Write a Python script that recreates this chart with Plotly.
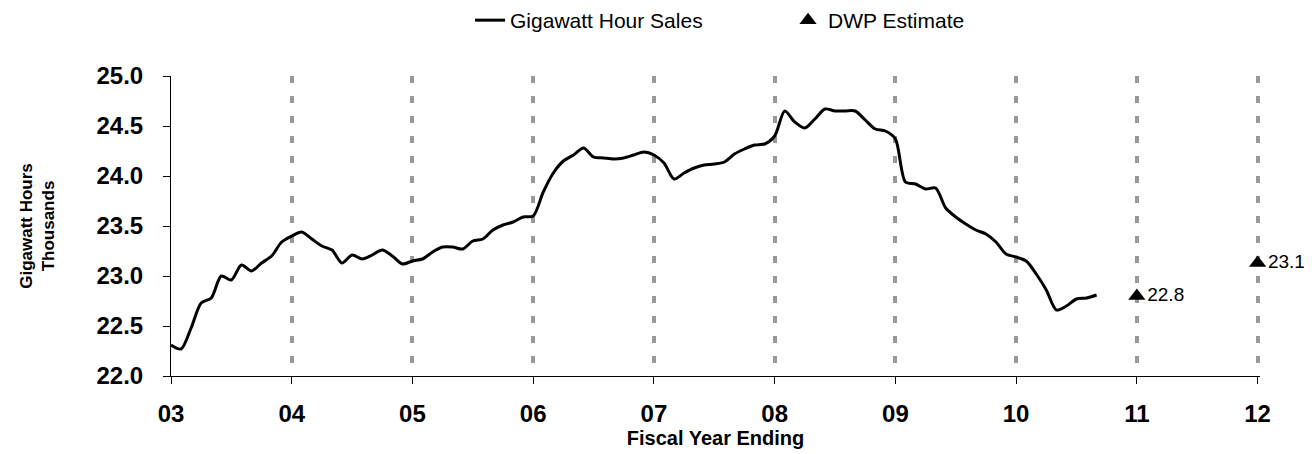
import plotly.graph_objects as go

# Ventas mensuales (miles de GWh), de FY03 a FY10 + 8 meses
ventas = [
    22.31, 22.27, 22.48, 22.73, 22.78, 23.00, 22.96, 23.11, 23.05, 23.13, 23.20, 23.34,
    23.40, 23.44, 23.37, 23.30, 23.26, 23.13, 23.21, 23.17, 23.21, 23.26, 23.20, 23.12,
    23.15, 23.17, 23.24, 23.29, 23.29, 23.27, 23.35, 23.37, 23.46, 23.51, 23.54, 23.59,
    23.60, 23.84, 24.03, 24.15, 24.21, 24.28, 24.19, 24.18, 24.17, 24.18, 24.21, 24.24,
    24.21, 24.13, 23.97, 24.03, 24.08, 24.11, 24.12, 24.14, 24.22, 24.27, 24.31, 24.32,
    24.40, 24.65, 24.54, 24.48, 24.57, 24.67, 24.65, 24.65, 24.65, 24.56, 24.47, 24.45,
    24.37, 23.94, 23.92, 23.87, 23.88, 23.68, 23.59, 23.52, 23.46, 23.42, 23.34, 23.22,
    23.19, 23.15, 23.02, 22.86, 22.66, 22.70, 22.77, 22.78, 22.81,
]
meses = [3 + k / 12 for k in range(len(ventas))]

anios_estimado = [11, 12]
estimado_dwp = [22.8, 23.13]
etiquetas_estimado = ["22.8", "23.1"]

anios = list(range(3, 13))
etiquetas_anios = [f"{a:02d}" for a in anios]

fig = go.Figure()

fig.add_trace(go.Scatter(
    x=meses, y=ventas, mode="lines", name="Gigawatt Hour Sales",
    line=dict(color="black", width=3, shape="spline", smoothing=0.8),
))

fig.add_trace(go.Scatter(
    x=anios_estimado, y=estimado_dwp, mode="markers+text", name="DWP Estimate",
    marker=dict(symbol="triangle-up", size=15, color="black"),
    text=etiquetas_estimado, textposition="middle right",
    textfont=dict(family="Arial", size=19, color="black"),
    cliponaxis=False,
))

fig.update_layout(
    width=1312, height=454,
    margin=dict(l=163, r=60, t=68, b=86, autoexpand=False),
    plot_bgcolor="white", paper_bgcolor="white",
    font=dict(family="Arial", color="black"),
    showlegend=True,
    legend=dict(
        orientation="h", x=0.2746, xanchor="left", y=1.185, yanchor="middle",
        font=dict(size=21), entrywidth=273, entrywidthmode="pixels",
        itemwidth=30,
    ),
    xaxis=dict(
        range=[3, 12.02], tickvals=anios, ticktext=etiquetas_anios,
        showline=True, linecolor="black", linewidth=1,
        ticks="outside", ticklen=7, tickcolor="black", ticklabelstandoff=9,
        tickfont=dict(size=24, weight="bold"),
        showgrid=True, gridcolor="#999999", gridwidth=3.5, griddash="7px,13px",
        zeroline=False, automargin=False,
        title=dict(text="Fiscal Year Ending", font=dict(size=20, weight="bold"), standoff=5),
    ),
    yaxis=dict(
        range=[22, 25], dtick=0.5, tickformat=".1f",
        showline=True, linecolor="black", linewidth=1,
        ticks="outside", ticklen=7, tickcolor="black", ticklabelstandoff=15,
        tickfont=dict(size=24, weight="bold"),
        showgrid=False, zeroline=False, automargin=False,
        title=dict(text="Gigawatt Hours<br>Thousands", font=dict(size=17, weight="bold"), standoff=37),
    ),
)

fig.write_html("out.html")
